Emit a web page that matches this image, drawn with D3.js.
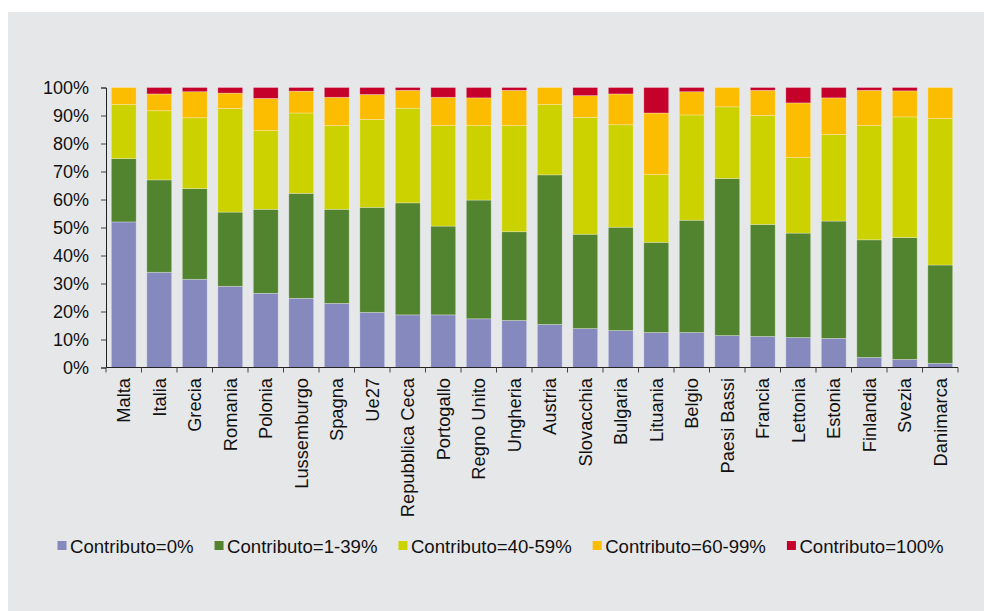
<!DOCTYPE html>
<html>
<head>
<meta charset="utf-8">
<script src="https://cdn.jsdelivr.net/npm/d3@7"></script>
<style>
  html, body { margin: 0; padding: 0; background: #ffffff; }
  svg { display: block; }
  text { font-family: "Liberation Sans", Arial, sans-serif; fill: #111; }
</style>
</head>
<body>
<svg id="chart" width="984" height="611"></svg>
<script>
const categories = ["Malta","Italia","Grecia","Romania","Polonia","Lussemburgo","Spagna","Ue27","Repubblica Ceca","Portogallo","Regno Unito","Ungheria","Austria","Slovacchia","Bulgaria","Lituania","Belgio","Paesi Bassi","Francia","Lettonia","Estonia","Finlandia","Svezia","Danimarca"];
const seriesNames = ["Contributo=0%","Contributo=1-39%","Contributo=40-59%","Contributo=60-99%","Contributo=100%"];
const contrib0    = [52.0,34.0,31.5,29.0,26.5,24.7,22.9,19.7,18.8,18.8,17.4,16.8,15.4,13.9,13.2,12.5,12.5,11.4,11.1,10.7,10.4,3.6,2.9,1.5];
const contrib1_39 = [22.6,33.0,32.4,26.5,30.0,37.5,33.6,37.5,40.0,31.7,42.4,31.7,53.4,33.7,36.9,32.2,40.1,56.1,40.0,37.3,41.9,42.0,43.5,35.1];
const contrib40_59= [19.3,24.7,25.3,37.0,28.1,28.7,29.9,31.4,33.8,35.9,26.6,37.9,25.1,41.7,36.6,24.2,37.6,25.6,38.9,27.0,30.9,40.8,43.1,52.3];
const contrib60_99= [6.1,6.0,9.3,5.5,11.5,7.8,10.1,8.9,6.4,10.1,9.9,12.6,6.1,7.8,11.0,22.0,8.3,6.9,9.0,19.5,13.1,12.6,9.3,11.1];
const contrib100  = [0.0,2.3,1.5,2.0,3.9,1.3,3.5,2.5,1.0,3.5,3.7,1.0,0.0,2.9,2.3,9.1,1.5,0.0,1.0,5.5,3.7,1.0,1.2,0.0];
const yTicks = [0,10,20,30,40,50,60,70,80,90,100];
const colors = ["#8589BE","#52832E","#CCD100","#FCBC00","#C4002B"];

const seriesArrays = [contrib0, contrib1_39, contrib40_59, contrib60_99, contrib100];
const table = categories.map((c, i) => {
  const row = { cat: c };
  seriesNames.forEach((s, j) => row[s] = seriesArrays[j][i]);
  return row;
});

const svg = d3.select("#chart");
svg.append("rect").attr("x", 8).attr("y", 12).attr("width", 976).attr("height", 599).attr("fill", "#E6E7E9");

const x = d3.scaleBand().domain(categories).range([106, 958]).paddingInner(0.3).paddingOuter(0.15);
const y = d3.scaleLinear().domain([0, 100]).range([367.5, 87.5]);

const stack = d3.stack().keys(seriesNames)(table);

svg.append("g").selectAll("g").data(stack).join("g")
  .attr("fill", (d, i) => colors[i])
  .selectAll("rect").data(d => d).join("rect")
  .attr("x", d => x(d.data.cat))
  .attr("width", x.bandwidth())
  .attr("y", d => y(d[1]))
  .attr("height", d => Math.max(0, y(d[0]) - y(d[1])))
  .attr("stroke", "rgba(255,255,255,0.35)")
  .attr("stroke-width", 0.8);

// Y axis
const yAxis = svg.append("g").attr("transform", "translate(106,0)")
  .call(d3.axisLeft(y).tickValues(yTicks).tickFormat(d => d + "%").tickSize(5).tickPadding(12));
yAxis.select(".domain").attr("stroke", "#222");
yAxis.selectAll(".tick line").attr("stroke", "#444");
yAxis.selectAll("text").style("font-size", "18px").attr("fill", "#111").attr("font-family", "Liberation Sans, Arial, sans-serif");

// X axis
const xg = svg.append("g");
xg.append("line").attr("x1", 106).attr("x2", 958).attr("y1", y(0)).attr("y2", y(0)).attr("stroke", "#222");
const step = x.step();
const boundaries = d3.range(categories.length + 1).map(i => x.range()[0] + i * step);
xg.selectAll("line.tk").data(boundaries).join("line").attr("class", "tk")
  .attr("x1", d => d).attr("x2", d => d).attr("y1", y(0)).attr("y2", y(0) + 5).attr("stroke", "#444");
xg.selectAll("text").data(categories).join("text")
  .attr("transform", d => `translate(${x(d) + x.bandwidth() / 2},378) rotate(-90)`)
  .attr("text-anchor", "end")
  .attr("dominant-baseline", "central")
  .style("font-size", "18.3px")
  .text(d => d);

// Legend
const lg = svg.append("g");
let lx = 57.5;
seriesNames.forEach((s, i) => {
  lg.append("rect").attr("x", lx).attr("y", 541).attr("width", 9).attr("height", 9).attr("fill", colors[i]);
  const t = lg.append("text").attr("x", lx + 12.5).attr("y", 546).attr("dominant-baseline", "central")
    .style("font-size", "18.6px").text(s);
  lx += 12.5 + t.node().getComputedTextLength() + 21;
});
</script>
</body>
</html>
